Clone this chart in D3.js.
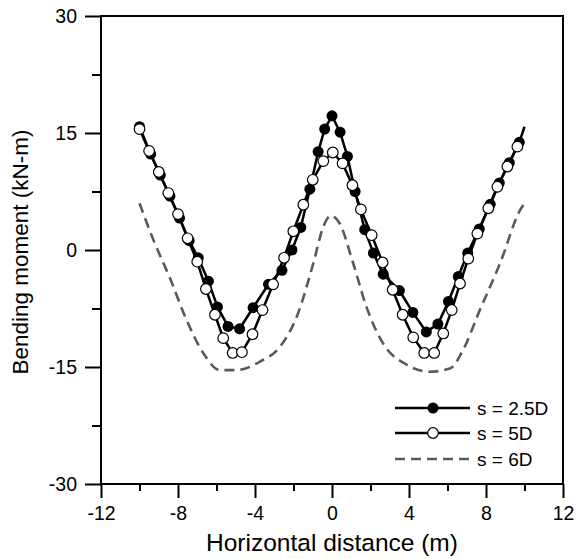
<!DOCTYPE html>
<meta charset="utf-8">
<style>
  body { margin: 0; background: #fff; }
  text { font-family: "Liberation Sans", Arial, sans-serif; fill: #000; }
</style>
<body>
<svg></svg>
<script src="https://cdn.jsdelivr.net/npm/d3@7"></script>
<script>

// data ---------------------------------------------------------------
// s = 2.5D (filled markers)
var x25 = [-10.0, -9.42, -8.92, -8.42, -7.92, -7.42, -6.95, -6.42, -5.95, -5.4, -4.8, -4.1, -3.3, -2.6,
           -2.08, -1.62, -1.15, -0.72, -0.38, 0.0, 0.42, 0.8, 1.2, 1.7, 2.15, 2.66, 3.5, 4.2, 4.9,
           5.5, 6.05, 6.56, 7.05, 7.65, 8.22, 8.69, 9.21, 9.73, 10.0];
var y25 = [15.8, 12.3, 9.6, 6.9, 4.1, 1.2, -1.0, -4.0, -7.3, -9.8, -10.1, -7.4, -4.4, -2.6,
           0.0, 2.9, 7.8, 12.6, 15.5, 17.2, 15.1, 12.0, 7.5, 2.6, -0.4, -3.1, -5.2, -8.0, -10.5,
           -9.5, -6.6, -3.4, -0.4, 2.7, 5.85, 8.6, 11.2, 13.8, 15.8];

// s = 5D (open markers)
var x5 = [-10.0, -9.5, -9.0, -8.5, -8.0, -7.5, -7.0, -6.55, -6.08, -5.65, -5.16, -4.68, -4.13, -3.61,
          -3.06, -2.49, -2.01, -1.49, -1.0, -0.45, 0.04, 0.55, 1.06, 1.5, 2.06, 2.63, 3.15, 3.67,
          4.22, 4.79, 5.31, 5.78, 6.22, 6.65, 7.08, 7.55, 8.12, 8.59, 9.11, 9.63];
var y5 = [15.5, 12.7, 10.0, 7.3, 4.6, 1.5, -1.5, -5.0, -8.3, -11.3, -13.2, -13.1, -10.8, -7.7,
          -4.4, -1.0, 2.4, 5.8, 9.0, 11.4, 12.5, 11.1, 8.3, 5.2, 1.9, -1.6, -5.1, -8.3,
          -11.2, -13.2, -13.2, -10.7, -7.7, -4.3, -1.1, 2.1, 5.35, 8.1, 10.7, 13.25];

// s = 6D (dashed, no markers)
var x6 = [-10.0, -9.28, -8.42, -7.55, -6.69, -5.82, -4.95, -3.74, -2.7, -1.83, -0.97, -0.45, -0.05,
          0.4, 1.1, 1.79, 2.66, 3.87, 5.08, 6.12, 6.81, 7.68, 8.73, 9.77, 10.0];
var y6 = [6.0, 1.3, -3.6, -9.0, -13.2, -15.4, -15.4, -14.3, -12.4, -8.55, -1.7, 3.0, 4.4,
          3.4, -1.7, -7.3, -12.0, -14.7, -15.6, -15.2, -12.8, -7.7, -1.7, 5.1, 6.0];

var xTicks = [-12, -8, -4, 0, 4, 8, 12];
var xMinor = [-10, -6, -2, 2, 6, 10];
var yTicks = [-30, -15, 0, 15, 30];
var yMinor = [-22.5, -7.5, 7.5, 22.5];

var legendLabels = ["s = 2.5D", "s = 5D", "s = 6D"];

// setup ----------------------------------------------------------------
var width = 576, height = 559;
var plotL = 101, plotR = 563, plotT = 16, plotB = 484;

var svg = d3.select("svg")
    .attr("width", width)
    .attr("height", height);

var x = d3.scaleLinear().domain([-12, 12]).range([plotL, plotR]);
var y = d3.scaleLinear().domain([-30, 30]).range([plotB, plotT]);

// plain hyphen minus like the original, not the unicode minus
var fmt = function(d) { return String(d); };

// frame
svg.append("rect")
   .attr("x", plotL).attr("y", plotT)
   .attr("width", plotR - plotL).attr("height", plotB - plotT)
   .attr("fill", "none").attr("stroke", "#000").attr("stroke-width", 2);

// axes
svg.append("g")
   .attr("transform", "translate(0," + plotB + ")")
   .call(d3.axisBottom(x).tickValues(xTicks).tickSize(14).tickPadding(8).tickFormat(fmt));

svg.append("g")
   .attr("transform", "translate(0," + plotB + ")")
   .call(d3.axisBottom(x).tickValues(xMinor).tickSize(7).tickFormat(""));

svg.append("g")
   .attr("transform", "translate(" + plotL + ",0)")
   .call(d3.axisLeft(y).tickValues(yTicks).tickSize(16).tickPadding(8).tickFormat(fmt));

svg.append("g")
   .attr("transform", "translate(" + plotL + ",0)")
   .call(d3.axisLeft(y).tickValues(yMinor).tickSize(9).tickFormat(""));

svg.selectAll(".domain").remove();
svg.selectAll(".tick line").attr("stroke", "#000").attr("stroke-width", 2);
svg.selectAll(".tick text")
   .style("font-family", "'Liberation Sans', Arial, sans-serif")
   .style("font-size", "19.5px")
   .attr("fill", "#000");

// axis titles
svg.append("text")
   .attr("x", (plotL + plotR) / 2)
   .attr("y", 551)
   .attr("text-anchor", "middle")
   .style("font-size", "24.5px")
   .text("Horizontal distance (m)");

svg.append("text")
   .attr("transform", "translate(28,252) rotate(-90)")
   .attr("text-anchor", "middle")
   .style("font-size", "22.5px")
   .text("Bending moment (kN-m)");

// series ---------------------------------------------------------------
function pairs(xs, ys) { return xs.map(function(d, i) { return [d, ys[i]]; }); }

var line = d3.line().x(function(d) { return x(d[0]); }).y(function(d) { return y(d[1]); });
var smooth = d3.line().curve(d3.curveMonotoneX)
    .x(function(d) { return x(d[0]); }).y(function(d) { return y(d[1]); });

var plot = svg.append("g");

// 6D dashed
plot.append("path")
    .attr("d", smooth(pairs(x6, y6)))
    .attr("fill", "none").attr("stroke", "#5a5a5a")
    .attr("stroke-width", 2.6).attr("stroke-dasharray", "10,6");

// 2.5D
var s25 = pairs(x25, y25);
plot.append("path")
    .attr("d", line(s25))
    .attr("fill", "none").attr("stroke", "#000").attr("stroke-width", 2.5);
// last point carries the line to x=10 but has no marker in the original
plot.selectAll(".m25")
    .data(s25.slice(0, -1))
    .enter().append("circle")
    .attr("class", "m25")
    .attr("cx", function(d) { return x(d[0]); })
    .attr("cy", function(d) { return y(d[1]); })
    .attr("r", 5.5)
    .attr("fill", "#000");

// 5D
var s5 = pairs(x5, y5);
plot.append("path")
    .attr("d", line(s5))
    .attr("fill", "none").attr("stroke", "#000").attr("stroke-width", 2.5);
plot.selectAll(".m5")
    .data(s5)
    .enter().append("circle")
    .attr("class", "m5")
    .attr("cx", function(d) { return x(d[0]); })
    .attr("cy", function(d) { return y(d[1]); })
    .attr("r", 5.3)
    .attr("fill", "#fff").attr("stroke", "#000").attr("stroke-width", 1.2);

// legend ---------------------------------------------------------------
var legend = svg.append("g");
var rowY = [408, 433, 459];

legendLabels.forEach(function(lab, i)
{
    var ly = rowY[i];
    var seg = legend.append("line")
        .attr("x1", 395).attr("x2", 470)
        .attr("y1", ly).attr("y2", ly);

    if (i < 2)
        seg.attr("stroke", "#000").attr("stroke-width", 2.5);
    else
        seg.attr("stroke", "#5a5a5a").attr("stroke-width", 2.6).attr("stroke-dasharray", "10,6");

    if (i == 0)
        legend.append("circle").attr("cx", 433).attr("cy", ly).attr("r", 5.5).attr("fill", "#000");
    if (i == 1)
        legend.append("circle").attr("cx", 433).attr("cy", ly).attr("r", 5.3)
              .attr("fill", "#fff").attr("stroke", "#000").attr("stroke-width", 1.2);

    legend.append("text")
        .attr("x", 477).attr("y", ly + 7)
        .style("font-size", "19px")
        .text(lab);
});

</script>
</body>
</html>
